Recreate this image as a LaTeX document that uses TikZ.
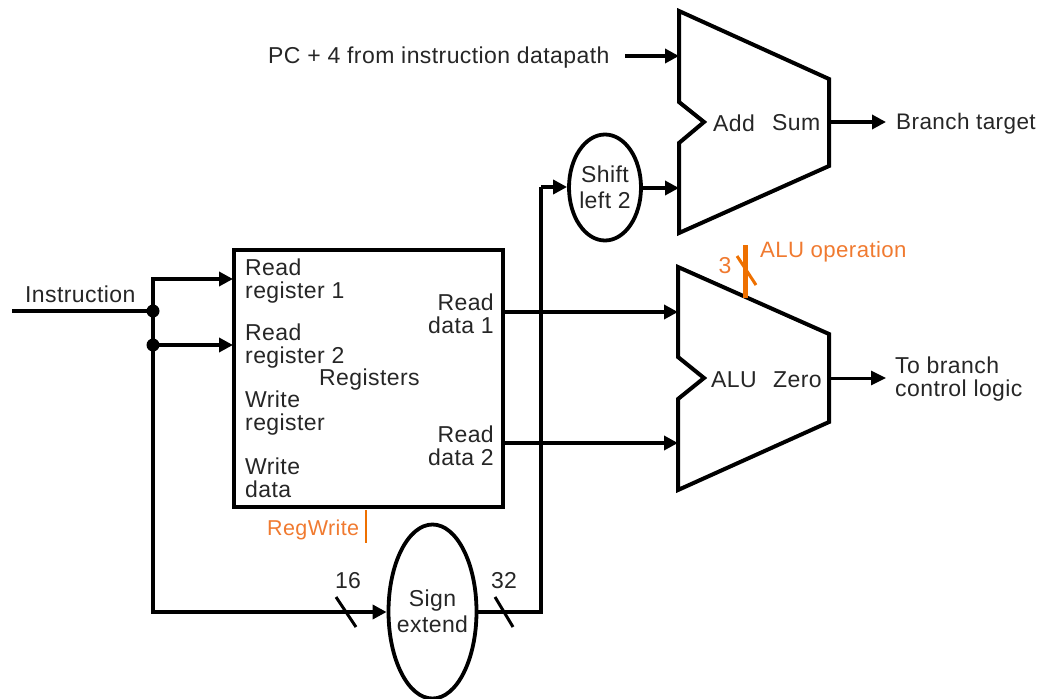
\documentclass[tikz,border=0pt]{standalone}
\usepackage{fontspec}
\setmainfont[LetterSpace=1.8]{Liberation Sans}
\usetikzlibrary{arrows.meta,shapes.geometric}
\definecolor{txt}{HTML}{262626}
\definecolor{orangetxt}{HTML}{F07A30}
\definecolor{orangeln}{HTML}{EE7000}
\tikzset{
  lbl/.style={inner sep=0pt,text=txt,font=\fontsize{23}{23}\selectfont,align=left},
  olbl/.style={lbl,text=orangetxt},
  unit/.style={draw=black,line width=4pt,line join=miter,fill=white},
  oval/.style={ellipse,draw=black,line width=3.8pt,fill=white,inner sep=0pt,align=center,text=txt,font=\fontsize{23}{26}\selectfont},
  wire/.style={draw=black,line width=4.6pt},
  arrow/.style={wire,-{Triangle[length=14pt,width=14pt]}},
  thinarrow/.style={draw=black,line width=3pt,-{Triangle[length=15pt,width=14pt]}},
  slash/.style={draw=black,line width=3pt},
  dot/.style={circle,fill=black,inner sep=0pt,minimum size=13pt}
}
\begin{document}
\begin{tikzpicture}[x=1pt,y=-1pt]
\useasboundingbox (0,0) rectangle (1040,698);
% units
\draw[unit] (679,11)--(829,79)--(829,166)--(679,233)--(679,143)--(704,122)--(679,102)--cycle;
\draw[unit] (678,267)--(829,334)--(829,422)--(678,490)--(678,399)--(704,378)--(678,357)--cycle;
\node[draw=black,line width=3.5pt,fill=white,minimum width=269pt,minimum height=257pt,inner sep=0pt] (regs) at (368.5,378.5) {};
\node[oval,inner xsep=-7pt,minimum width=88pt,minimum height=174pt] (sign) at (432.5,611.5) {Sign\\extend};
\node[oval,inner xsep=-1pt,minimum width=72pt,minimum height=106pt] (shift) at (605,187.5) {Shift\\left 2};
% coordinates
\coordinate (instart) at (12,311);
\coordinate (j1) at (153,311);
\coordinate (j2) at (153,345);
\coordinate (jt) at (153,279);
\coordinate (jb) at (153,612);
\coordinate (r1) at (233,279);
\coordinate (r2) at (233,345);
\coordinate (d1) at (503,312);
\coordinate (d2) at (503,443);
\coordinate (a1) at (678,312);
\coordinate (a2) at (678,443);
\coordinate (add1) at (679,56);
\coordinate (add2) at (679,188);
\coordinate (pcout) at (625,56);
\coordinate (sumout) at (829,122);
\coordinate (sumend) at (886,122);
\coordinate (zout) at (829,378);
\coordinate (zend) at (886,378);
\coordinate (corner) at (541,612);
\coordinate (up) at (541,187);
\coordinate (opT) at (745,245);
\coordinate (opB) at (745,298);
\coordinate (rwT) at (366,510);
\coordinate (rwB) at (366,543);
% wires
\draw[wire,line join=miter] (instart)--(j1);
\draw[arrow,line join=miter] (j1)--(jt)--(r1);
\draw[arrow] (j2)--(r2);
\draw[arrow,line join=miter] (j1)--(jb)--(sign.west |- jb);
\draw[arrow] (d1)--(a1);
\draw[arrow] (d2)--(a2);
\draw[wire,line join=miter] (sign.east |- corner)--(corner)--(up);
\draw[arrow] (up)--(shift.west |- up);
\draw[arrow] (shift.east |- add2)--(add2);
\draw[arrow] (pcout)--(add1);
\draw[arrow] (sumout)--(sumend);
\draw[thinarrow] (zout)--(zend);
\node[dot] (dota) at (j1) {};
\node[dot] (dotb) at (j2) {};
% slashes
\coordinate (s16a) at (336,597); \coordinate (s16b) at (356,627);
\coordinate (s32a) at (495,597); \coordinate (s32b) at (513,627);
\draw[slash] (s16a)--(s16b);
\draw[slash] (s32a)--(s32b);
% orange
\draw[draw=orangeln,line width=5pt] (opT)--(opB);
\coordinate (sa) at (737,256); \coordinate (sb) at (756,285);
\draw[draw=orangeln,line width=3pt] (sa)--(sb);
\draw[draw=orangeln,line width=1.5pt] (rwT)--(rwB);
% labels
\node[lbl,anchor=west] (tinst) at (25,294) {Instruction};
\node[lbl,anchor=west] (trr1) at (245,281) {Read\\register 1};
\node[lbl,anchor=west] (trr2) at (245,346) {Read\\register 2};
\node[lbl,anchor=west] (tregs) at (319,380) {Registers};
\node[lbl,anchor=west] (twr) at (245,413) {Write\\register};
\node[lbl,anchor=west] (twd) at (245,478) {Write\\data};
\node[lbl,anchor=east,align=right] (trd1) at (494,314) {Read\\data 1};
\node[lbl,anchor=east,align=right] (trd2) at (494,446) {Read\\data 2};
\node[lbl,anchor=west] (tadd) at (713,123) {Add};
\node[lbl,anchor=west] (tsum) at (772,123) {Sum};
\node[lbl,anchor=west,font=\fontsize{22.5}{23}\selectfont] (tbt) at (896,124) {Branch target};
\node[lbl,anchor=west] (talu) at (711,380) {ALU};
\node[lbl,anchor=west] (tzero) at (773,380) {Zero};
\node[lbl,anchor=west] (tbranch) at (895,379) {To branch\\control logic};
\node[lbl,anchor=west] (tpc) at (268,58) {PC + 4 from instruction datapath};
\node[lbl] (t16) at (348,581) {16};
\node[lbl] (t32) at (504,581) {32};
\node[olbl,anchor=west,font=\fontsize{22.2}{23}\selectfont] (tope) at (760,252) {ALU operation};
\node[olbl] (t3) at (725,266) {3};
\node[olbl,anchor=west,font=\fontsize{21.5}{23}\selectfont] (trw) at (267,530) {RegWrite};
\end{tikzpicture}
\end{document}
